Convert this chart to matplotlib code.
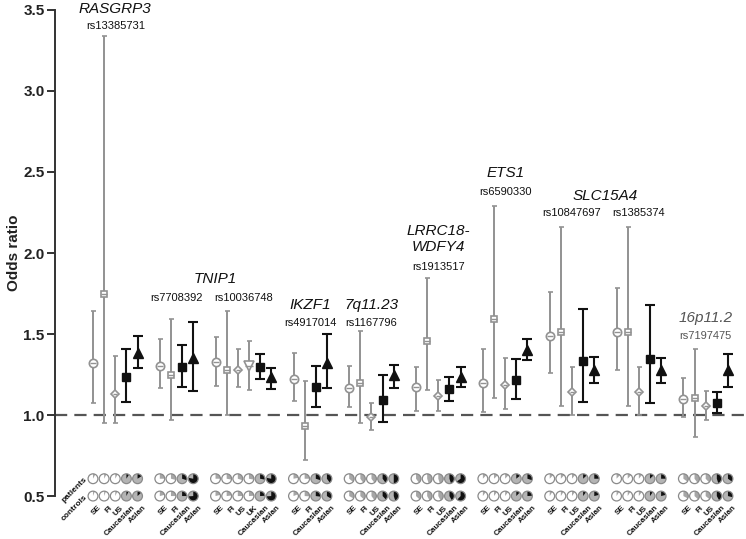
import matplotlib
matplotlib.use("Agg")
import matplotlib.pyplot as plt
from matplotlib.patches import Wedge, Circle
from matplotlib.transforms import ScaledTranslation

plt.rcParams['font.family'] = ['Liberation Sans', 'DejaVu Sans']

# one entry per SNP block, left to right
snp_ids = ["rs13385731", "rs7708392", "rs10036748", "rs4917014", "rs1167796",
           "rs1913517", "rs6590330", "rs10847697", "rs1385374", "rs7197475"]
snp_cohorts = [
    ["SE", "FI", "US", "Caucasian", "Asian"],
    ["SE", "FI", "Caucasian", "Asian"],
    ["SE", "FI", "US", "UK", "Caucasian", "Asian"],
    ["SE", "FI", "Caucasian", "Asian"],
    ["SE", "FI", "US", "Caucasian", "Asian"],
    ["SE", "FI", "US", "Caucasian", "Asian"],
    ["SE", "FI", "US", "Caucasian", "Asian"],
    ["SE", "FI", "US", "Caucasian", "Asian"],
    ["SE", "FI", "US", "Caucasian", "Asian"],
    ["SE", "FI", "US", "Caucasian", "Asian"],
]
odds = [
    [1.32, 1.745, 1.13, 1.235, 1.385],
    [1.305, 1.245, 1.295, 1.35],
    [1.325, 1.28, 1.28, 1.30, 1.295, 1.235],
    [1.225, 0.935, 1.17, 1.32],
    [1.165, 1.20, 0.99, 1.095, 1.245],
    [1.17, 1.46, 1.12, 1.16, 1.235],
    [1.20, 1.59, 1.185, 1.215, 1.40],
    [1.49, 1.51, 1.14, 1.335, 1.275],
    [1.51, 1.51, 1.14, 1.345, 1.275],
    [1.10, 1.105, 1.055, 1.075, 1.275],
]
ci_low = [
    [1.075, 0.95, 0.95, 1.08, 1.29],
    [1.165, 0.97, 1.17, 1.15],
    [1.18, 1.0, 1.17, 1.155, 1.225, 1.16],
    [1.085, 0.72, 1.05, 1.165],
    [1.047, 0.95, 0.907, 0.96, 1.165],
    [1.027, 1.155, 1.027, 1.086, 1.175],
    [1.02, 1.105, 1.035, 1.10, 1.34],
    [1.26, 1.058, 1.0, 1.078, 1.196],
    [1.278, 1.058, 1.0, 1.076, 1.20],
    [0.99, 0.866, 0.97, 1.01, 1.175],
]
ci_high = [
    [1.64, 3.34, 1.365, 1.41, 1.49],
    [1.467, 1.59, 1.434, 1.575],
    [1.483, 1.642, 1.405, 1.46, 1.374, 1.292],
    [1.38, 1.21, 1.30, 1.50],
    [1.30, 1.52, 1.076, 1.247, 1.307],
    [1.298, 1.848, 1.216, 1.235, 1.298],
    [1.407, 2.29, 1.354, 1.346, 1.467],
    [1.761, 2.162, 1.294, 1.652, 1.356],
    [1.786, 2.162, 1.294, 1.679, 1.35],
    [1.227, 1.407, 1.148, 1.144, 1.374],
]
# risk allele frequency shown in the small pies
freq_patients = [
    [0.08, 0.08, 0.08, 0.09, 0.16],
    [0.25, 0.29, 0.30, 0.78],
    [0.25, 0.28, 0.30, 0.28, 0.28, 0.78],
    [0.22, 0.25, 0.30, 0.40],
    [0.36, 0.40, 0.40, 0.40, 0.50],
    [0.40, 0.45, 0.45, 0.45, 0.65],
    [0.12, 0.13, 0.12, 0.14, 0.30],
    [0.12, 0.12, 0.11, 0.13, 0.25],
    [0.12, 0.12, 0.11, 0.13, 0.25],
    [0.35, 0.40, 0.38, 0.45, 0.35],
]
freq_controls = [
    [0.06, 0.06, 0.07, 0.07, 0.13],
    [0.21, 0.25, 0.25, 0.74],
    [0.21, 0.23, 0.25, 0.24, 0.24, 0.74],
    [0.19, 0.26, 0.27, 0.34],
    [0.33, 0.37, 0.40, 0.38, 0.45],
    [0.37, 0.42, 0.42, 0.42, 0.62],
    [0.10, 0.10, 0.10, 0.12, 0.24],
    [0.09, 0.09, 0.10, 0.10, 0.21],
    [0.09, 0.09, 0.10, 0.10, 0.21],
    [0.33, 0.37, 0.36, 0.42, 0.29],
]
genes = ["RASGRP3", "TNIP1", "IKZF1", "7q11.23", "LRRC18-\nWDFY4", "ETS1", "SLC15A4", "16p11.2"]
gene_snps = [[0], [1, 2], [3], [4], [5], [6], [7, 8], [9]]

# label heights (layout)
gene_y = [3.506, 1.84, 1.679, 1.679, 2.086, 2.494, 2.352, 1.597]
rs_y = [3.40, 1.722, 1.722, 1.568, 1.568, 1.914, 2.378, 2.245, 2.245, 1.488]

GRAY = "#929292"
styles = {
    "SE": ("o", 6.0),
    "FI": ("s", 5.0),
    "US": ("D", 4.2),
    "UK": ("v", 6.5),
    "Caucasian": ("s", 5.6),
    "Asian": ("^", 6.5),
}

fig = plt.figure(figsize=(7.46, 5.39), dpi=100)
ax = fig.add_axes([55 / 746, 0, 690 / 746, 531 / 539])
ax.set_xlim(-3.41, 58.53)
ax.set_ylim(0.235, 3.512)

# slot positions: one empty slot between SNP blocks
xs = []
pos = 0
for cohorts in snp_cohorts:
    xs.append([pos + k for k in range(len(cohorts))])
    pos += len(cohorts) + 1

ax.axhline(1.0, color="#555555", lw=1.6, ls=(0, (5.5, 3.2)), zorder=1)

R = 0.049  # pie radius, inches
for i, cohorts in enumerate(snp_cohorts):
    for j, c in enumerate(cohorts):
        x = xs[i][j]
        o = odds[i][j]
        meta = c in ("Caucasian", "Asian")
        m, ms = styles[c]
        err = [[o - ci_low[i][j]], [ci_high[i][j] - o]]
        if meta:
            ax.errorbar(x, o, yerr=err, fmt=m, ms=ms, color="#111111", ecolor="#111111",
                        elinewidth=1.5, capsize=3.6, capthick=1.5, zorder=3)
        else:
            ax.errorbar(x, o, yerr=err, fmt=m, ms=ms, mfc="white", mec=GRAY, mew=1.2,
                        ecolor=GRAY, elinewidth=1.4, capsize=1.8, capthick=1.2, zorder=2)
            ax.plot(x, o, marker="_", ms=ms * 0.8, mew=1.0, color=GRAY, zorder=2.5)

        # pies for patients / controls
        for yrow, f in ((0.607, freq_patients[i][j]), (0.5, freq_controls[i][j])):
            tr = fig.dpi_scale_trans + ScaledTranslation(x, yrow, ax.transData)
            base = "#b4b4b4" if meta else "white"
            wcol = "#111111" if meta else "#a6a6a6"
            ax.add_artist(Circle((0, 0), R, transform=tr, fc=base, ec="none",
                                 clip_on=False, zorder=4))
            ax.add_artist(Wedge((0, 0), R, 90 - 360 * f, 90, transform=tr, fc=wcol,
                                ec="none", clip_on=False, zorder=5))
            ax.add_artist(Circle((0, 0), R, transform=tr, fc="none", ec="#8a8a8a",
                                 lw=0.9, clip_on=False, zorder=6))

        ax.text(x + 0.45, 0.45, c, rotation=45, rotation_mode="anchor", ha="right",
                va="top", fontsize=5.8, fontweight="bold", color="#111111")

    col = "#555555" if i == len(snp_ids) - 1 else "#111111"
    xc = (xs[i][0] + xs[i][-1]) / 2
    ax.text(xc, rs_y[i], snp_ids[i], ha="center", va="center", fontsize=8, color=col)

for g, name in enumerate(genes):
    idx = gene_snps[g]
    xc = (xs[idx[0]][0] + xs[idx[-1]][-1]) / 2
    col = "#555555" if g == len(genes) - 1 else "#111111"
    ax.text(xc, gene_y[g], name, ha="center", va="center", fontsize=11, style="italic",
            color=col, linespacing=1.15)

ax.text(-0.6, 0.607, "patients", rotation=45, rotation_mode="anchor", ha="right",
        va="center", fontsize=6, fontweight="bold", color="#111111")
ax.text(-0.6, 0.5, "controls", rotation=45, rotation_mode="anchor", ha="right",
        va="center", fontsize=6, fontweight="bold", color="#111111")

for s in ("top", "right", "bottom"):
    ax.spines[s].set_visible(False)
ax.spines["left"].set_bounds(0.5, 3.5)
ax.spines["left"].set_linewidth(1.4)
ax.spines["left"].set_color("#333333")
ax.set_xticks([])
ax.set_yticks([0.5, 1.0, 1.5, 2.0, 2.5, 3.0, 3.5])
ax.set_yticklabels(["0.5", "1.0", "1.5", "2.0", "2.5", "3.0", "3.5"])
ax.tick_params(axis="y", length=5.5, width=1.4, color="#333333", labelsize=11, pad=2)
for t in ax.get_yticklabels():
    t.set_fontweight("bold")
    t.set_color("#222222")
ax.set_ylabel("Odds ratio", fontsize=11, fontweight="bold", color="#222222")
ax.yaxis.set_label_coords(-0.05, 0.54)

fig.savefig("out.png", dpi=100)
